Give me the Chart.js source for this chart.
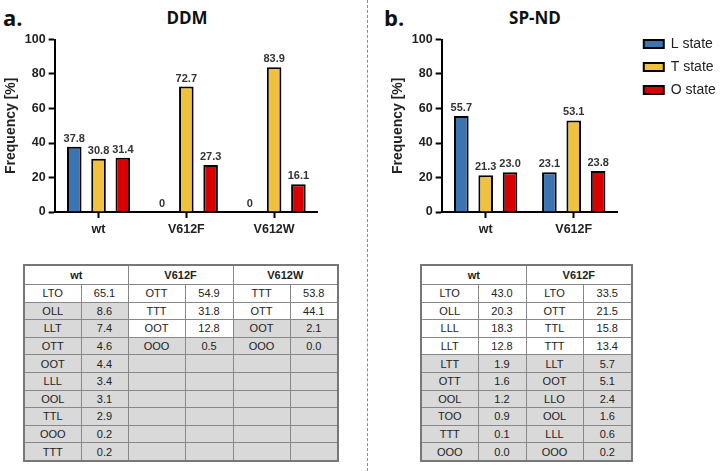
<!DOCTYPE html>
<html>
<head>
<meta charset="utf-8">
<script src="https://cdn.jsdelivr.net/npm/chart.js"></script>
<style>
html, body { margin: 0; padding: 0; background: #fff; overflow: hidden; }
body { width: 720px; height: 471px; position: relative; font-family: "Liberation Sans", Arial, sans-serif; }
canvas { position: absolute; }
.head { position: absolute; font-family: "Open Sans", sans-serif; font-weight: bold; color: #111; line-height: 1; white-space: nowrap; }
.panel { font-size: 22px; }
.title { font-size: 17px; width: 200px; text-align: center; }
.divider { position: absolute; left: 367px; top: 0; height: 471px; border-left: 1px dashed #8a8a8a; }
table { position: absolute; border-collapse: collapse; table-layout: fixed; font-size: 11px; color: #222; border: 2px solid #777; }
th, td { border: 1px solid #888; text-align: center; padding: 0; }
th { font-weight: bold; height: 18px; background: #fff; }
td { height: 16.6px; background: #d9d9d9; }
td.top { background: #fff; }
</style>
</head>
<body>
<div class="head panel" style="left:3px;top:6px;">a.</div>
<div class="head title" style="left:87px;top:9px;">DDM</div>
<div class="head panel" style="left:384px;top:6px;">b.</div>
<div class="head title" style="left:435px;top:9px;">SP-ND</div>
<div class="divider"></div>
<canvas id="ddmChart" width="318" height="213" style="left:0;top:29px;"></canvas>
<canvas id="spChart" width="333" height="213" style="left:387px;top:29px;"></canvas>
<table id="ddmTable" style="left:23px;top:264px;width:314px;"></table>
<table id="spTable" style="left:420px;top:264px;width:211px;"></table>

<script>
var stateNames = ['L state', 'T state', 'O state'];
var stateColors = ['#3a74b1', '#f0c03f', '#d80000'];

var ddmGroups = ['wt', 'V612F', 'V612W'];
var ddmL = [37.8, 0, 0];
var ddmT = [30.8, 72.7, 83.9];
var ddmO = [31.4, 27.3, 16.1];

var spGroups = ['wt', 'V612F'];
var spL = [55.7, 23.1];
var spT = [21.3, 53.1];
var spO = [23.0, 23.8];

// tables: combination names and frequencies per group
var ddmWtNames = ['LTO', 'OLL', 'LLT', 'OTT', 'OOT', 'LLL', 'OOL', 'TTL', 'OOO', 'TTT'];
var ddmWtValues = ['65.1', '8.6', '7.4', '4.6', '4.4', '3.4', '3.1', '2.9', '0.2', '0.2'];
var ddmFNames = ['OTT', 'TTT', 'OOT', 'OOO'];
var ddmFValues = ['54.9', '31.8', '12.8', '0.5'];
var ddmWNames = ['TTT', 'OTT', 'OOT', 'OOO'];
var ddmWValues = ['53.8', '44.1', '2.1', '0.0'];
var ddmTopCount = [1, 3, 2];

var spWtNames = ['LTO', 'OLL', 'LLL', 'LLT', 'LTT', 'OTT', 'OOL', 'TOO', 'TTT', 'OOO'];
var spWtValues = ['43.0', '20.3', '18.3', '12.8', '1.9', '1.6', '1.2', '0.9', '0.1', '0.0'];
var spFNames = ['LTO', 'OTT', 'TTL', 'TTT', 'LLT', 'OOT', 'LLO', 'OOL', 'LLL', 'OOO'];
var spFValues = ['33.5', '21.5', '15.8', '13.4', '5.7', '5.1', '2.4', '1.6', '0.6', '0.2'];
var spTopCount = [4, 4];

Chart.defaults.font.family = '"Liberation Sans", Arial, sans-serif';
Chart.defaults.color = '#222';

var valueLabels = {
  id: 'valueLabels',
  afterDatasetsDraw: function(chart) {
    var ctx = chart.ctx;
    ctx.save();
    ctx.font = 'bold 11px "Liberation Sans", Arial, sans-serif';
    ctx.fillStyle = '#333';
    ctx.textAlign = 'center';
    ctx.textBaseline = 'alphabetic';
    chart.data.datasets.forEach(function(ds, i) {
      chart.getDatasetMeta(i).data.forEach(function(bar, j) {
        var v = ds.data[j];
        ctx.fillText(v === 0 ? '0' : v.toFixed(1), bar.x, bar.y - 5);
      });
    });
    ctx.restore();
  }
};

// push the legend a little right of the plot, as in the figure
var moveLegend = {
  id: 'moveLegend',
  afterLayout: function(chart) {
    var lg = chart.legend;
    if (!lg || !lg.options.display) return;
    lg.left += 17; lg.right += 30;
    lg.top -= 1; lg.bottom -= 1;
  }
};

function makeDatasets(l, t, o) {
  return [l, t, o].map(function(values, i) {
    return {
      label: stateNames[i],
      data: values,
      backgroundColor: stateColors[i],
      borderColor: '#000',
      borderWidth: 2,
      categoryPercentage: 0.83,
      barPercentage: 0.6
    };
  });
}

function makeOptions(withLegend) {
  return {
    responsive: false,
    animation: false,
    layout: { padding: { left: 0, right: withLegend ? 25.3 : 0, top: 0, bottom: 0 } },
    plugins: {
      tooltip: { enabled: false },
      legend: {
        display: withLegend,
        position: 'right',
        align: 'start',
        labels: { boxWidth: 20, boxHeight: 8, padding: 9, color: '#222', font: { size: 14 } }
      }
    },
    scales: {
      x: {
        grid: { display: true, drawOnChartArea: false, offset: false, tickLength: 6, tickColor: '#000', tickWidth: 2 },
        border: { color: '#000', width: 2 },
        ticks: { font: { size: 12.5, weight: 'bold' }, color: '#222', padding: 4.5 }
      },
      y: {
        min: 0,
        max: 100,
        ticks: { stepSize: 20, font: { size: 12.5, weight: 'bold' }, color: '#222', padding: 3 },
        grid: { display: true, drawOnChartArea: false, tickLength: 6, tickColor: '#000', tickWidth: 2 },
        border: { color: '#000', width: 2 },
        title: { display: true, text: 'Frequency [%]', font: { size: 14, weight: 'bold' }, color: '#222', padding: { top: 3, bottom: 2 } }
      }
    }
  };
}

new Chart(document.getElementById('ddmChart'), {
  type: 'bar',
  data: { labels: ddmGroups, datasets: makeDatasets(ddmL, ddmT, ddmO) },
  options: makeOptions(false),
  plugins: [valueLabels]
});

new Chart(document.getElementById('spChart'), {
  type: 'bar',
  data: { labels: spGroups, datasets: makeDatasets(spL, spT, spO) },
  options: makeOptions(true),
  plugins: [valueLabels, moveLegend]
});

function buildTable(el, groups, columns, colWidths, topCount) {
  var html = '<colgroup>';
  colWidths.forEach(function(w) { html += '<col style="width:' + w + 'px">'; });
  html += '</colgroup><tr>';
  groups.forEach(function(g) { html += '<th colspan="2">' + g + '</th>'; });
  html += '</tr>';
  var rows = Math.max.apply(null, columns.map(function(c) { return c[0].length; }));
  for (var r = 0; r < rows; r++) {
    html += '<tr>';
    columns.forEach(function(c, gi) {
      var cls = r < topCount[gi] ? ' class="top"' : '';
      html += '<td' + cls + '>' + (c[0][r] || '') + '</td><td' + cls + '>' + (c[1][r] || '') + '</td>';
    });
    html += '</tr>';
  }
  el.innerHTML = html;
}

buildTable(document.getElementById('ddmTable'), ddmGroups,
  [[ddmWtNames, ddmWtValues], [ddmFNames, ddmFValues], [ddmWNames, ddmWValues]],
  [57, 47, 57, 48, 57, 48], ddmTopCount);
buildTable(document.getElementById('spTable'), spGroups,
  [[spWtNames, spWtValues], [spFNames, spFValues]],
  [57, 48, 57, 49], spTopCount);
</script>
</body>
</html>
